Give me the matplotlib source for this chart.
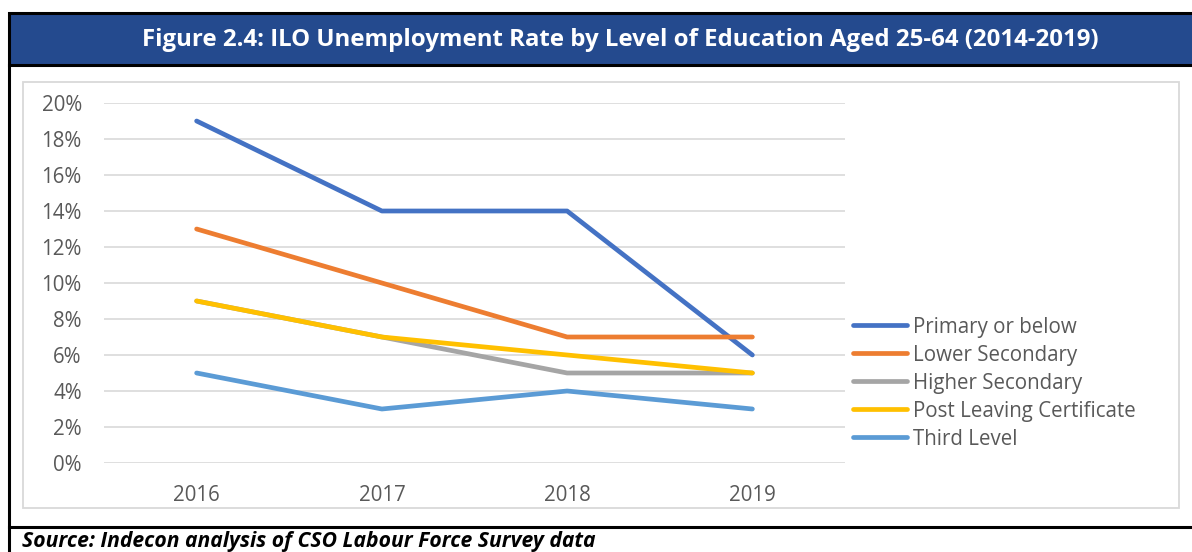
import matplotlib.pyplot as plt
from matplotlib.patches import Rectangle
from matplotlib.lines import Line2D
from matplotlib.ticker import PercentFormatter

plt.rcParams['font.family'] = ['Open Sans', 'DejaVu Sans']

# дані: рівень безробіття (%) за рівнем освіти
years = ['2016', '2017', '2018', '2019']
primary = [19, 14, 14, 6]
lower_secondary = [13, 10, 7, 7]
higher_secondary = [9, 7, 5, 5]
post_leaving = [9, 7, 6, 5]
third_level = [5, 3, 4, 3]

series_names = ['Primary or below', 'Lower Secondary', 'Higher Secondary',
                'Post Leaving Certificate', 'Third Level']
series_values = [primary, lower_secondary, higher_secondary, post_leaving, third_level]
colors = ['#4472C4', '#ED7D31', '#A5A5A5', '#FFC000', '#5B9BD5']

W, H = 1192, 552
fig = plt.figure(figsize=(W / 100, H / 100), dpi=100)

def fx(px):  # пікселі -> координати фігури
    return px / W

def fy(py):
    return 1 - py / H

# синя смуга із заголовком
fig.patches.append(Rectangle((fx(9), fy(65)), fx(1250), fy(13) - fy(65),
                             transform=fig.transFigure, facecolor='#244A8E',
                             edgecolor='black', linewidth=2.2))
fig.text(fx(620), fy(40), 'Figure 2.4: ILO Unemployment Rate by Level of Education Aged 25-64 (2014-2019)',
         color='white', fontsize=17.3, fontweight='bold', ha='center', va='center')

# рамки навколо області графіка
fig.add_artist(Line2D([fx(9), fx(9)], [fy(65), 0], transform=fig.transFigure, color='black', lw=2.2))
fig.add_artist(Line2D([fx(9), 1], [fy(527), fy(527)], transform=fig.transFigure, color='black', lw=2.2))
fig.patches.append(Rectangle((fx(23), fy(508)), fx(1179 - 23), fy(82) - fy(508),
                             transform=fig.transFigure, facecolor='none',
                             edgecolor='#D9D9D9', linewidth=1.3))

# область графіка
ax = fig.add_axes([fx(104), fy(463), fx(845 - 104), fy(103) - fy(463)])
x = range(len(years))
for name, vals, c in zip(series_names, series_values, colors):
    ax.plot(x, vals, color=c, lw=3.4, solid_capstyle='round', label=name)

ax.set_xlim(-0.5, len(years) - 0.5)
ax.set_ylim(0, 20)
ax.set_yticks(range(0, 21, 2))
ax.yaxis.set_major_formatter(PercentFormatter(decimals=0))
ax.set_xticks(list(x))
ax.set_xticklabels(years)
ax.grid(axis='y', color='#D9D9D9', lw=1.2)
ax.set_axisbelow(True)
for s in ax.spines.values():
    s.set_visible(False)
ax.tick_params(length=0, labelsize=14.8, colors='#595959')
ax.tick_params(axis='y', pad=16)
ax.tick_params(axis='x', pad=16)

ax.legend(loc='center left', bbox_to_anchor=(fx(853 - 104) / fx(845 - 104), 0.222),
          frameon=False, fontsize=14.8, handlelength=2.65, handletextpad=0.25,
          labelspacing=0.34, labelcolor='#595959', borderaxespad=0, borderpad=0)

# джерело даних
fig.text(fx(22), fy(542), 'Source: Indecon analysis of CSO Labour Force Survey data',
         fontsize=15.2, fontweight='bold', style='italic', ha='left', va='center', color='black')

fig.savefig('out.png', dpi=100)
